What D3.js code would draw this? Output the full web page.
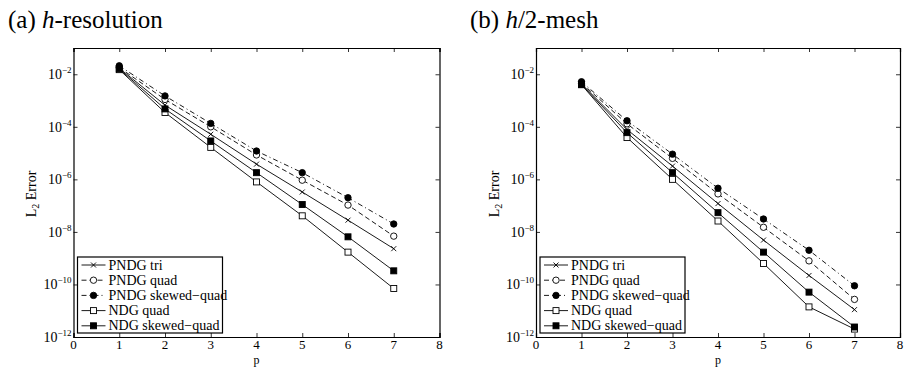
<!DOCTYPE html>
<html>
<head>
<meta charset="utf-8">
<script src="https://cdn.jsdelivr.net/npm/d3@7"></script>
<style>
  body { margin: 0; background: #fff; }
  text { font-family: "Liberation Serif", "DejaVu Serif", serif; fill: #000; }
</style>
</head>
<body>
<div id="chart"></div>
<script>
// polynomial orders
var pOrders = [1, 2, 3, 4, 5, 6, 7];
var seriesNames = ["PNDG tri", "PNDG quad", "PNDG skewed\u2212quad", "NDG quad", "NDG skewed\u2212quad"];
var yTickValues = [1e-12, 1e-10, 1e-8, 1e-6, 1e-4, 1e-2];
var yTickExps = ["\u221212", "\u221210", "\u22128", "\u22126", "\u22124", "\u22122"];
var xTickValues = [0, 1, 2, 3, 4, 5, 6, 7, 8];

// (a) h-resolution
var triA      = [1.7e-2, 6.7e-4, 5.2e-5, 3.8e-6, 3.3e-7, 2.8e-8, 2.3e-9];
var quadA     = [1.8e-2, 1.1e-3, 1.0e-4, 8.5e-6, 9.3e-7, 1.05e-7, 6.9e-9];
var skewA     = [2.1e-2, 1.5e-3, 1.35e-4, 1.2e-5, 1.8e-6, 2.0e-7, 2.0e-8];
var ndgQuadA  = [1.5e-2, 3.5e-4, 1.65e-5, 8.0e-7, 4.1e-8, 1.7e-9, 7.0e-11];
var ndgSkewA  = [1.6e-2, 4.8e-4, 2.9e-5, 1.8e-6, 1.1e-7, 6.5e-9, 3.3e-10];

// (b) h/2-mesh
var triB      = [4.3e-3, 7.9e-5, 3.2e-6, 1.2e-7, 4.9e-9, 2.2e-10, 1.1e-11];
var quadB     = [4.6e-3, 1.3e-4, 6.3e-6, 2.8e-7, 1.5e-8, 7.9e-10, 2.7e-11];
var skewB     = [5.2e-3, 1.7e-4, 9.1e-6, 4.6e-7, 3.1e-8, 2.0e-9, 8.9e-11];
var ndgQuadB  = [4.0e-3, 3.9e-5, 1.0e-6, 2.6e-8, 6.3e-10, 1.4e-11, 2.0e-12];
var ndgSkewB  = [4.1e-3, 6.0e-5, 1.8e-6, 5.4e-8, 1.7e-9, 5.1e-11, 2.4e-12];

// line style + marker per series
var styles = [
  {dash: null,      marker: "x"},
  {dash: "5,3",     marker: "circle", fill: "#fff"},
  {dash: "5,3,1,3", marker: "circle", fill: "#000"},
  {dash: null,      marker: "square", fill: "#fff"},
  {dash: null,      marker: "square", fill: "#000"}
];

var svg = d3.select("#chart").append("svg")
    .attr("width", 905)
    .attr("height", 367);

function drawPanel(opts) {
  var x = d3.scaleLinear().domain([0, 8]).range([opts.left, opts.right]);
  var y = d3.scaleLog().domain([1e-12, 1e-1]).range([337, 48]);
  var g = svg.append("g");

  // title
  var t = g.append("text")
      .attr("x", opts.titleX)
      .attr("y", 28)
      .style("font-size", "25px");
  t.append("tspan").text(opts.titlePre);
  t.append("tspan").style("font-style", "italic").text("h");
  t.append("tspan").text(opts.titlePost);

  // axes, inward ticks on all four sides
  var tk = 4;
  g.append("g")
      .attr("transform", "translate(0,337)")
      .call(d3.axisBottom(x).tickValues(xTickValues).tickSize(-tk).tickFormat(""));
  g.append("g")
      .attr("transform", "translate(0,48)")
      .call(d3.axisTop(x).tickValues(xTickValues).tickSize(-tk).tickFormat(""));
  g.append("g")
      .attr("transform", "translate(" + opts.left + ",0)")
      .call(d3.axisLeft(y).tickValues(yTickValues).tickSize(-tk).tickFormat(""));
  g.append("g")
      .attr("transform", "translate(" + opts.right + ",0)")
      .call(d3.axisRight(y).tickValues(yTickValues).tickSize(-tk).tickFormat(""));
  g.selectAll(".domain").attr("stroke", "#000").attr("stroke-width", 1.2);
  g.selectAll(".tick line").attr("stroke", "#000").attr("stroke-width", 0.8);

  // x tick labels
  g.selectAll(".xlab")
    .data(xTickValues)
    .enter().append("text")
      .attr("x", function(d) { return x(d); })
      .attr("y", 349)
      .attr("text-anchor", "middle")
      .style("font-size", "13px")
      .text(function(d) { return d; });

  g.append("text")
      .attr("x", x(4))
      .attr("y", 363.5)
      .attr("text-anchor", "middle")
      .style("font-size", "12px")
      .text("p");

  // y tick labels 10^n
  yTickValues.forEach(function(v, i) {
    var lab = g.append("text")
        .attr("x", opts.left - 2)
        .attr("y", y(v) + 5)
        .attr("text-anchor", "end")
        .style("font-size", "14px");
    lab.append("tspan").text("10");
    lab.append("tspan").attr("dy", -6).style("font-size", "9px").text(yTickExps[i]);
  });

  // y label
  var yl = g.append("text")
      .attr("transform", "translate(" + opts.yLabelX + ",194) rotate(-90)")
      .attr("text-anchor", "middle")
      .style("font-size", "14px");
  yl.append("tspan").text("L");
  yl.append("tspan").attr("dy", 3).style("font-size", "10px").text("2");
  yl.append("tspan").attr("dy", -3).text(" Error");

  var line = d3.line()
      .x(function(d, i) { return x(pOrders[i]); })
      .y(function(d) { return y(d); });

  function marker(sel, st, cx, cy) {
    if (st.marker === "x") {
      sel.append("path")
          .attr("d", "M" + (cx - 2.5) + "," + (cy - 2.5) + "L" + (cx + 2.5) + "," + (cy + 2.5) +
                     "M" + (cx - 2.5) + "," + (cy + 2.5) + "L" + (cx + 2.5) + "," + (cy - 2.5))
          .attr("stroke", "#000").attr("stroke-width", 0.9);
    } else if (st.marker === "circle") {
      sel.append("circle")
          .attr("cx", cx).attr("cy", cy).attr("r", 3.2)
          .attr("fill", st.fill).attr("stroke", "#000").attr("stroke-width", 0.9);
    } else {
      sel.append("rect")
          .attr("x", cx - 3).attr("y", cy - 3).attr("width", 6).attr("height", 6)
          .attr("fill", st.fill).attr("stroke", "#000").attr("stroke-width", 0.9);
    }
  }

  opts.series.forEach(function(vals, si) {
    var st = styles[si];
    g.append("path")
        .datum(vals)
        .attr("fill", "none")
        .attr("stroke", "#000")
        .attr("stroke-width", 0.9)
        .attr("stroke-dasharray", st.dash)
        .attr("d", line);
    var mg = g.append("g");
    vals.forEach(function(v, i) { marker(mg, st, x(pOrders[i]), y(v)); });
  });

  // legend
  var lx = opts.left + 4, ly = 257, lw = 145, lh = 76;
  var lg = g.append("g");
  lg.append("rect")
      .attr("x", lx).attr("y", ly).attr("width", lw).attr("height", lh)
      .attr("fill", "#fff").attr("stroke", "#000").attr("stroke-width", 1.2);
  seriesNames.forEach(function(name, i) {
    var st = styles[i];
    var yy = ly + 8 + i * 15.2;
    lg.append("line")
        .attr("x1", lx + 4).attr("x2", lx + 28)
        .attr("y1", yy).attr("y2", yy)
        .attr("stroke", "#000").attr("stroke-width", 0.9)
        .attr("stroke-dasharray", st.dash);
    marker(lg, st, lx + 16, yy);
    lg.append("text")
        .attr("x", lx + 31)
        .attr("y", yy + 4.5)
        .style("font-size", "14px")
        .text(name);
  });
}

drawPanel({
  left: 73.5, right: 439.5, titleX: 8, yLabelX: 36,
  titlePre: "(a) ", titlePost: "-resolution",
  series: [triA, quadA, skewA, ndgQuadA, ndgSkewA]
});

drawPanel({
  left: 536, right: 900, titleX: 470, yLabelX: 499,
  titlePre: "(b) ", titlePost: "/2-mesh",
  series: [triB, quadB, skewB, ndgQuadB, ndgSkewB]
});
</script>
</body>
</html>
